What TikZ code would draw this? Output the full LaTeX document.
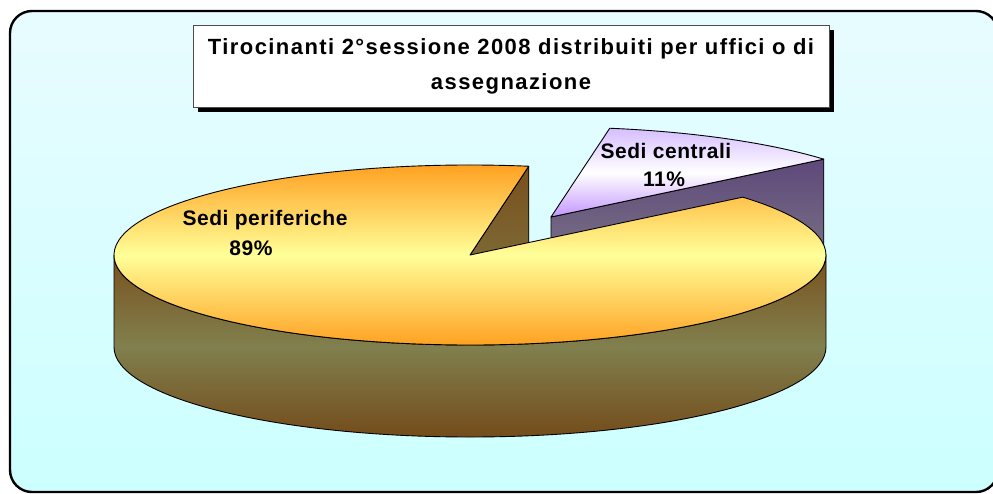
\documentclass[tikz,border=0pt]{standalone}
\usepackage{fontspec}
\setmainfont{Liberation Sans}
\usepackage{tikz}
\usetikzlibrary{shadows, calc}
\definecolor{sfondoalto}{RGB}{232,252,255}
\definecolor{sfondobasso}{RGB}{204,255,255}
\definecolor{arancio}{RGB}{255,154,24}
\definecolor{giallo}{RGB}{255,255,153}
\definecolor{marrone}{RGB}{122,80,28}
\definecolor{oliva}{RGB}{128,128,78}
\definecolor{viola}{RGB}{196,150,255}
\definecolor{violachiaro}{RGB}{214,190,255}
\definecolor{violascuro}{RGB}{94,72,122}
\definecolor{grigio}{RGB}{134,134,138}
\tikzset{
	x=1pt, y=1pt, % un punto per pixel
	bordo/.style={draw=black, line width=0.9pt, line join=round}, % contorno delle fette
	etichetta/.style={font=\bfseries\fontsize{21}{24}\selectfont\addfontfeatures{LetterSpace=2.5}, inner sep=0pt}, % testo delle fette
	titolobox/.style={draw=black!70, line width=0.6pt, fill=white, align=center,
		minimum width=636pt, minimum height=82pt,
		font=\bfseries\fontsize{22}{35}\selectfont\addfontfeatures{LetterSpace=6.5},
		drop shadow={shadow xshift=5pt, shadow yshift=-5pt, fill=black, opacity=1}} % riquadro del titolo
}

\begin{document}
\begin{tikzpicture}
	\clip (0,0) rectangle (993,-493);
	\draw[line width=2.4pt, rounded corners=22pt, top color=sfondoalto, bottom color=sfondobasso]
		(10,-11) rectangle (998,-492);
	\node[titolobox] (titolo) at (511,-66) {Tirocinanti 2°sessione 2008 distribuiti per uffici o di\\assegnazione};
	\coordinate (O) at (470,-255);
	\coordinate (P) at (551,-217);
	\path (O) ++(80.5:356 and 90) coordinate (a1);
	\path (P) ++(40:356 and 90) coordinate (b1);
	% fetta staccata: sedi centrali
	\draw[bordo, top color=violascuro, bottom color=grigio] (P) -- (b1) -- ++(0,-92) -- ($(P)+(0,-92)$) -- cycle;
	\draw[bordo, top color=violachiaro, bottom color=viola, middle color=white]
		(P) -- (b1) arc[start angle=40, end angle=80.5, x radius=356, y radius=90] -- cycle;
	% fetta grande: sedi periferiche
	\draw[bordo, top color=marrone, bottom color=oliva] (O) -- (a1) -- ++(0,-92) -- ($(O)+(0,-92)$) -- cycle;
	\draw[bordo, top color=marrone, bottom color=marrone!95!black, middle color=oliva]
		(O) ++(180:356 and 90) arc[start angle=180, end angle=360, x radius=356, y radius=90]
		-- ++(0,-92) arc[start angle=360, end angle=180, x radius=356, y radius=90] -- cycle;
	\draw[bordo, top color=arancio, bottom color=arancio, middle color=giallo]
		(O) -- (a1) arc[start angle=80.5, end angle=400, x radius=356, y radius=90] -- cycle;
	\node[etichetta] (perif) at (265,-220) {Sedi periferiche};
	\node[etichetta] (percperif) at (251,-248) {89\%};
	\node[etichetta] (centr) at (666,-151) {Sedi centrali};
	\node[etichetta] (perccentr) at (664,-179) {11\%};
\end{tikzpicture}
\end{document}
